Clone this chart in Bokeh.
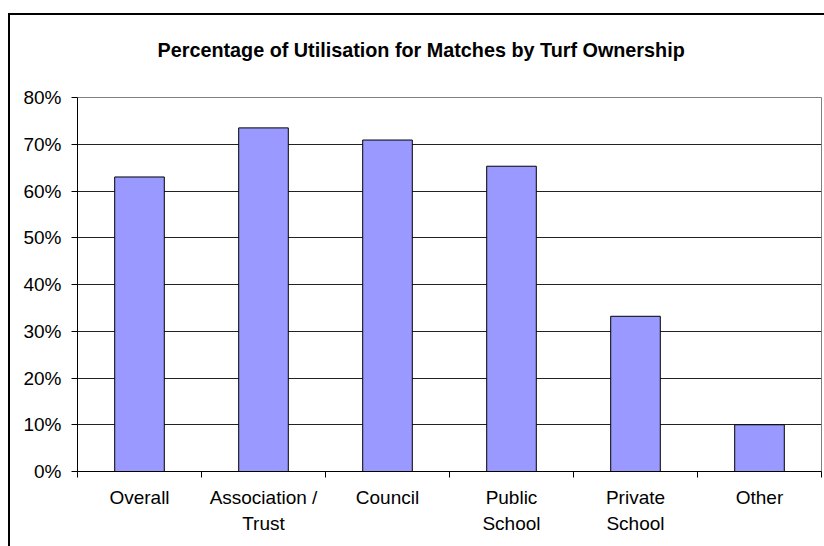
from bokeh.plotting import figure
from bokeh.models import (Range1d, FixedTicker, NumeralTickFormatter, ColumnDataSource,
                          InlineStyleSheet)
from bokeh.embed import file_html
from bokeh.resources import INLINE

# Share of available turf time used for matches, by ownership type
categories = ["Overall", "Association /\nTrust", "Council", "Public\nSchool", "Private\nSchool", "Other"]
utilisation = [0.63, 0.735, 0.709, 0.653, 0.332, 0.10]
y_ticks = [0.0, 0.1, 0.2, 0.3, 0.4, 0.5, 0.6, 0.7, 0.8]

FONT = "Liberation Sans"

n = len(categories)
centers = [i + 0.5 for i in range(n)]
boundaries = list(range(n + 1))

source = ColumnDataSource(data=dict(x=centers, top=utilisation, name=categories))

p = figure(width=824, height=546, output_backend="svg", toolbar_location=None,
           x_range=Range1d(0, n), y_range=Range1d(0, 0.8),
           min_border_left=77, min_border_right=3, min_border_top=97, min_border_bottom=75,
           background_fill_color="white", border_fill_color="white")

p.vbar(x="x", top="top", width=0.4, source=source,
       fill_color="#9999FF", line_color="black", line_width=1)

# Title
p.title.text = "Percentage of Utilisation for Matches by Turf Ownership"
p.title.text_font = FONT
p.title.text_font_size = "19.8px"
p.title.text_font_style = "bold"
p.title.text_color = "black"
p.title.align = "left"
p.title.offset = 80
p.title.standoff = 73

# Plot area outline and gridlines
p.outline_line_color = "#808080"
p.outline_line_width = 1
p.xgrid.visible = False
p.ygrid.grid_line_color = "#222222"
p.ygrid.grid_line_width = 1
p.ygrid.ticker = FixedTicker(ticks=y_ticks)

# Y axis
p.yaxis.ticker = FixedTicker(ticks=y_ticks)
p.yaxis.formatter = NumeralTickFormatter(format="0%")
p.yaxis.major_label_text_font = FONT
p.yaxis.major_label_text_font_size = "19px"
p.yaxis.major_label_text_color = "black"
p.yaxis.major_tick_in = 0
p.yaxis.major_tick_out = 6
p.yaxis.minor_tick_out = 0
p.yaxis.minor_tick_in = 0
p.yaxis.axis_line_color = "black"
p.yaxis.major_tick_line_color = "black"
p.yaxis.major_label_standoff = 10

# X axis: labels at category centres, tick marks at category boundaries
p.xaxis.ticker = FixedTicker(ticks=centers, minor_ticks=boundaries)
p.xaxis.major_label_overrides = {c: name for c, name in zip(centers, categories)}
p.xaxis.major_label_text_font = FONT
p.xaxis.major_label_text_font_size = "19px"
p.xaxis.major_label_text_color = "black"
p.xaxis.major_label_text_line_height = 1.28
p.xaxis.major_tick_in = 0
p.xaxis.major_tick_out = 0
p.xaxis.minor_tick_in = 0
p.xaxis.minor_tick_out = 6
p.xaxis.minor_tick_line_color = "black"
p.xaxis.axis_line_color = "black"
p.xaxis.major_label_standoff = 9

# Chart-area border (top and left edges; the rest runs past the page)
p.stylesheets = [InlineStyleSheet(css="""
:host { position: relative; }
:host::after {
  content: "";
  position: absolute;
  left: 8px; top: 13px;
  width: 814px; height: 531px;
  border-left: 2px solid black;
  border-top: 2px solid black;
  pointer-events: none;
  z-index: 10;
}
""")]

open("out.html", "w").write(file_html(p, INLINE))
